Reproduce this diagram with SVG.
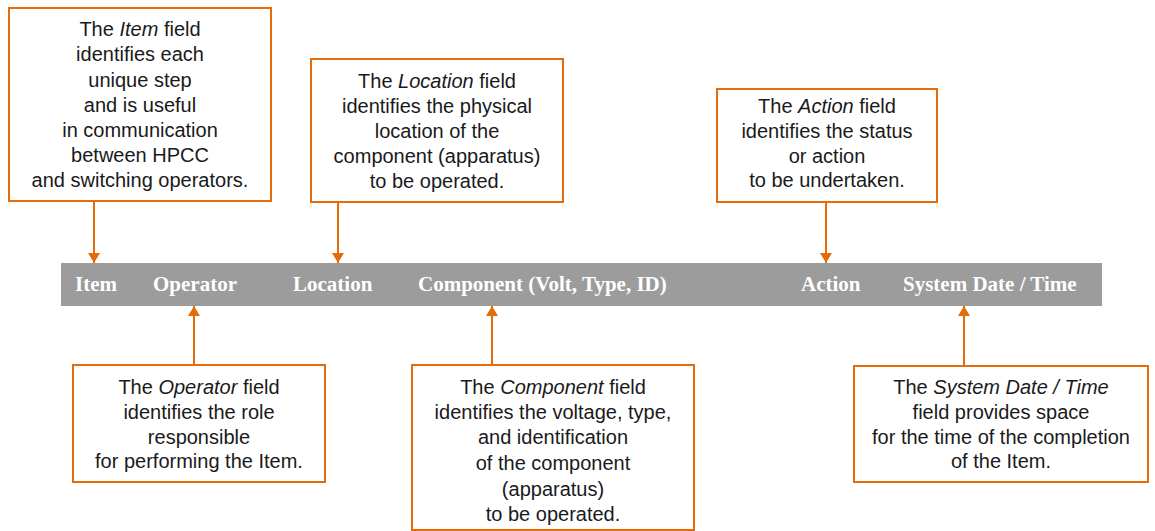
<svg xmlns="http://www.w3.org/2000/svg" width="1155" height="531" viewBox="0 0 1155 531">
<style>
.box{fill:#fff;stroke:#E46C0A;stroke-width:2}
.t{font-family:"Liberation Sans",Arial,sans-serif;font-size:20px;fill:#1a1a1a;text-anchor:middle}
.i{font-style:italic}
.bar{fill:#9c9c9c}
.h{font-family:"Liberation Serif","Times New Roman",serif;font-size:21px;font-weight:bold;fill:#fff}
.c{stroke:#E46C0A;stroke-width:2;fill:none}
</style>
<defs>
<marker id="ah" viewBox="0 0 10 12" refX="10" refY="6" markerWidth="10" markerHeight="12" markerUnits="userSpaceOnUse" orient="auto">
<path d="M0,0 L10,6 L0,12 Z" fill="#E46C0A"/>
</marker>
</defs>
<g id="header">
<rect class="bar" x="61" y="263" width="1041" height="43"/>
<text class="h" x="75" y="291">Item</text>
<text class="h" x="153" y="291">Operator</text>
<text class="h" x="293" y="291">Location</text>
<text class="h" x="418" y="291">Component (Volt, Type, ID)</text>
<text class="h" x="801" y="291">Action</text>
<text class="h" x="903" y="291">System Date / Time</text>
</g>
<g id="connectors">
<line class="c" x1="94" y1="201" x2="94" y2="263" marker-end="url(#ah)"/>
<line class="c" x1="338" y1="202" x2="338" y2="263" marker-end="url(#ah)"/>
<line class="c" x1="826" y1="202" x2="826" y2="263" marker-end="url(#ah)"/>
<line class="c" x1="194" y1="365" x2="194" y2="306" marker-end="url(#ah)"/>
<line class="c" x1="492" y1="365" x2="492" y2="306" marker-end="url(#ah)"/>
<line class="c" x1="964" y1="366" x2="964" y2="306" marker-end="url(#ah)"/>
</g>
<g id="item-note">
<rect class="box" x="9" y="8" width="262" height="193"/>
<text class="t" x="140" y="36"><tspan>The </tspan><tspan class="i">Item</tspan><tspan> field</tspan></text>
<text class="t" x="140" y="61">identifies each</text>
<text class="t" x="140" y="87">unique step</text>
<text class="t" x="140" y="112">and is useful</text>
<text class="t" x="140" y="137">in communication</text>
<text class="t" x="140" y="162">between HPCC</text>
<text class="t" x="140" y="187">and switching operators.</text>
</g>
<g id="location-note">
<rect class="box" x="311" y="59" width="252" height="143"/>
<text class="t" x="437" y="88"><tspan>The </tspan><tspan class="i">Location</tspan><tspan> field</tspan></text>
<text class="t" x="437" y="113">identifies the physical</text>
<text class="t" x="437" y="138">location of the</text>
<text class="t" x="437" y="163">component (apparatus)</text>
<text class="t" x="437" y="188">to be operated.</text>
</g>
<g id="action-note">
<rect class="box" x="717" y="89" width="220" height="113"/>
<text class="t" x="827" y="113"><tspan>The </tspan><tspan class="i">Action</tspan><tspan> field</tspan></text>
<text class="t" x="827" y="138">identifies the status</text>
<text class="t" x="827" y="163">or action</text>
<text class="t" x="827" y="187">to be undertaken.</text>
</g>
<g id="operator-note">
<rect class="box" x="73" y="365" width="252" height="117"/>
<text class="t" x="199" y="394"><tspan>The </tspan><tspan class="i">Operator</tspan><tspan> field</tspan></text>
<text class="t" x="199" y="419">identifies the role</text>
<text class="t" x="199" y="444">responsible</text>
<text class="t" x="199" y="468">for performing the Item.</text>
</g>
<g id="component-note">
<rect class="box" x="412" y="365" width="282" height="165"/>
<text class="t" x="553" y="394"><tspan>The </tspan><tspan class="i">Component</tspan><tspan> field</tspan></text>
<text class="t" x="553" y="419">identifies the voltage, type,</text>
<text class="t" x="553" y="444">and identification</text>
<text class="t" x="553" y="470">of the component</text>
<text class="t" x="553" y="496">(apparatus)</text>
<text class="t" x="553" y="521">to be operated.</text>
</g>
<g id="system-note">
<rect class="box" x="854" y="366" width="294" height="116"/>
<text class="t" x="1001" y="394"><tspan>The </tspan><tspan class="i">System Date / Time</tspan></text>
<text class="t" x="1001" y="419">field provides space</text>
<text class="t" x="1001" y="444">for the time of the completion</text>
<text class="t" x="1001" y="468">of the Item.</text>
</g>
</svg>
